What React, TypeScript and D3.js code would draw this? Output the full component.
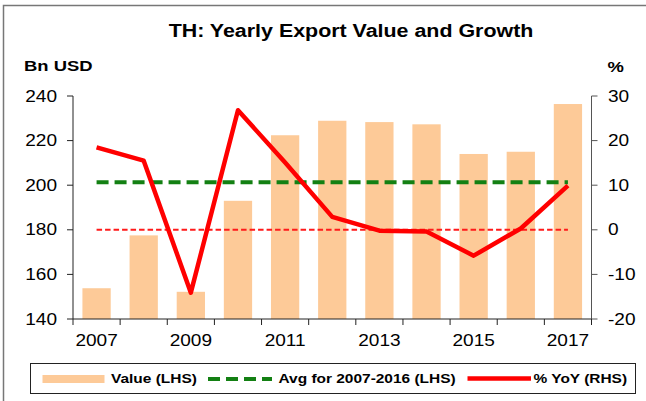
import React from "react";
import * as d3 from "d3";

const years = ["2007","2008","2009","2010","2011","2012","2013","2014","2015","2016","2017"];
const exportValue = [153.8, 177.5, 152.2, 193.0, 222.4, 228.9, 228.3, 227.3, 214.0, 215.0, 236.4];
const yoyGrowth = [18.5, 15.5, -14.1, 26.8, 15.1, 2.9, -0.2, -0.4, -5.8, 0.3, 9.9];
const avgValue = 201.3;
const leftTicks = [140, 160, 180, 200, 220, 240];
const rightTicks = [-20, -10, 0, 10, 20, 30];
const xLabelYears = ["2007","2009","2011","2013","2015","2017"];

const FONT = "'Liberation Sans', Arial, sans-serif";
const SX = 1.19;

function T({ x, y, anchor = "start", size, bold = false, children }: any) {
  return (
    <text
      transform={`translate(${x},${y}) scale(${SX},1)`}
      textAnchor={anchor}
      fontSize={size}
      fontWeight={bold ? "bold" : "normal"}
      fontFamily={FONT}
      fill="#000"
    >
      {children}
    </text>
  );
}

export default function App() {
  const left = 73, right = 591.5, top = 96, bottom = 319;
  const x = d3.scaleBand<string>().domain(years).range([left, right]).paddingInner(0.4).paddingOuter(0.2);
  const yL = d3.scaleLinear().domain([140, 240]).range([bottom, top]);
  const yR = d3.scaleLinear().domain([-20, 30]).range([bottom, top]);
  const cx = (yr: string) => (x(yr) as number) + x.bandwidth() / 2;
  const step = x.step();
  const boundaries = d3.range(years.length + 1).map((i) => left + i * step);

  const line = d3.line<number>().x((_, i) => cx(years[i])).y((d) => yR(d));
  const x0 = cx(years[0]);
  const x1 = cx(years[years.length - 1]);

  return (
    <svg width={646} height={401} style={{ position: "absolute", left: 0, top: 0, background: "#fff" }}>
      <rect x={3.5} y={5.5} width={700} height={500} fill="#fff" stroke="#777" strokeWidth={1.5} />
      <T x={351} y={36.5} anchor="middle" size={18} bold>TH: Yearly Export Value and Growth</T>
      <T x={24} y={71} size={15.5} bold>Bn USD</T>
      <T x={607.5} y={71.5} size={15.5} bold>%</T>

      {exportValue.map((v, i) => (
        <rect key={years[i]} x={x(years[i])} y={yL(v)} width={x.bandwidth()} height={yL(140) - yL(v)} fill="#FDCA98" />
      ))}

      <line x1={x0} x2={x1} y1={yL(avgValue)} y2={yL(avgValue)} stroke="#138013" strokeWidth={4} strokeDasharray="12 6" />
      <line x1={x0} x2={x1} y1={yR(0)} y2={yR(0)} stroke="#ff1a1a" strokeWidth={2} strokeDasharray="5.5 3" />
      <path d={line(yoyGrowth) || ""} fill="none" stroke="#ff0000" strokeWidth={4.5} strokeLinejoin="round" />

      {/* left axis */}
      <line x1={left} x2={left} y1={top} y2={bottom} stroke="#222" strokeWidth={1} />
      {leftTicks.map((t) => (
        <g key={t}>
          <line x1={left - 6} x2={left} y1={yL(t)} y2={yL(t)} stroke="#222" />
          <T x={57} y={yL(t) + 5.5} anchor="end" size={16}>{t}</T>
        </g>
      ))}
      {/* right axis */}
      <line x1={right} x2={right} y1={top} y2={bottom} stroke="#555" strokeWidth={1} />
      {rightTicks.map((t) => (
        <g key={t}>
          <line x1={right} x2={right + 6} y1={yR(t)} y2={yR(t)} stroke="#555" />
          <T x={608} y={yR(t) + 5.5} size={16}>{t}</T>
        </g>
      ))}
      {/* bottom axis */}
      <line x1={left} x2={right} y1={bottom} y2={bottom} stroke="#222" strokeWidth={1} />
      {boundaries.map((b, i) => (
        <line key={i} x1={b} x2={b} y1={bottom} y2={bottom + 6} stroke="#222" />
      ))}
      {xLabelYears.map((yr) => (
        <T key={yr} x={cx(yr)} y={346} anchor="middle" size={16}>{yr}</T>
      ))}

      {/* legend */}
      <rect x={30.5} y={363.5} width={605} height={30} fill="#fff" stroke="#222" strokeWidth={1} />
      <rect x={42.5} y={375} width={62} height={8} fill="#FDCA98" />
      <T x={111} y={383} size={13} bold>Value (LHS)</T>
      <line x1={208} x2={272} y1={379} y2={379} stroke="#138013" strokeWidth={4} strokeDasharray="12 6" />
      <T x={278.5} y={383} size={13} bold>Avg for 2007-2016 (LHS)</T>
      <line x1={467.5} x2={531} y1={378.5} y2={378.5} stroke="#ff0000" strokeWidth={4.5} />
      <T x={533.5} y={383} size={13} bold>% YoY (RHS)</T>
    </svg>
  );
}
